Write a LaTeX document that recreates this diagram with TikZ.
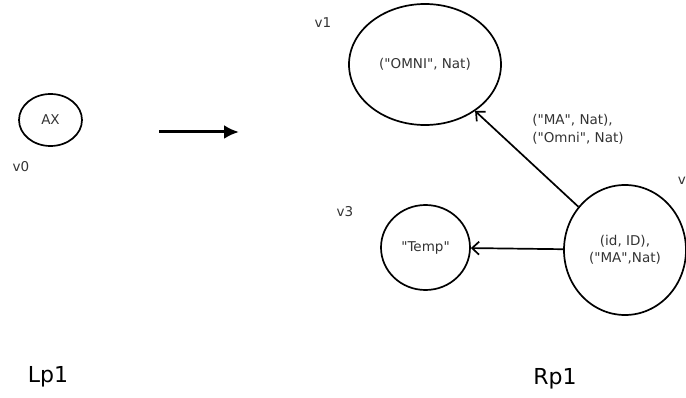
\documentclass[tikz,border=0pt]{standalone}
\usepackage{fontspec}
\setmainfont{DejaVu Sans}[Ligatures=TeXOff]
\usetikzlibrary{shapes.geometric,arrows.meta}

\begin{document}
\begin{tikzpicture}[x=1pt,y=-1pt,
        state/.style={ellipse,draw,line width=1.7pt,inner sep=0pt,align=center,
            text=black!80,font=\fontsize{13.5}{17}\selectfont},
        tag/.style={text=black!80,font=\fontsize{13.5}{18}\selectfont},
        side/.style={font=\fontsize{22}{26}\selectfont}]
        \useasboundingbox (0,0) rectangle (686,398);

        % left part
        \node[state,minimum width=63pt,minimum height=52pt] (ax) at (50.5,120) {AX};
        \node[tag] (v0) at (21,167) {v0};
        \node[side] (lp) at (48,377) {Lp1};

        \coordinate (a) at (159,132);
        \coordinate (b) at (239,132);
        \draw[line width=3pt,-{Latex[length=15pt,width=14pt]}] (a) -- (b);

        % right part
        \node[state,minimum width=152pt,minimum height=121pt] (omni) at (425,64.5) {("OMNI", Nat)};
        \node[tag] (v1) at (323,23) {v1};
        \node[state,minimum width=89pt,minimum height=85pt] (temp) at (425.5,247.5) {"Temp"};
        \node[tag] (v3) at (345,212) {v3};
        \node[state,minimum width=122pt,minimum height=130pt] (id) at (625,250) {(id, ID),\\("MA",Nat)};
        \node[tag,anchor=east,inner xsep=0pt] (v2) at (686,181) {v};
        \node[side] (rp) at (555,379) {Rp1};

        \draw[line width=1.7pt,-{Straight Barb[length=7pt,width=13pt]}] (id) -- (temp);
        \draw[line width=1.7pt,-{Straight Barb[length=7pt,width=13pt]}] (id) -- (omni);
        \node[tag,align=left] (lbl) at (578,129) {("MA", Nat),\\("Omni", Nat)};
\end{tikzpicture}
\end{document}
